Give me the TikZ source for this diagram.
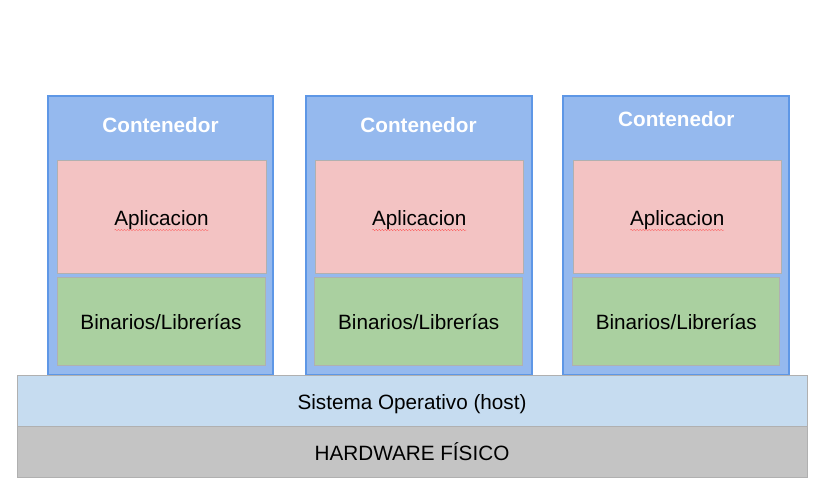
\documentclass[tikz,border=0pt]{standalone}
\usepackage{fontspec}
\setmainfont{Liberation Sans}
\usetikzlibrary{decorations.pathmorphing}
\definecolor{contfill}{HTML}{95B9EE}
\definecolor{contline}{HTML}{5E97E6}
\definecolor{appfill}{HTML}{F3C3C3}
\definecolor{binfill}{HTML}{AAD0A0}
\definecolor{osfill}{HTML}{C6DCF0}
\definecolor{hwfill}{HTML}{C4C4C4}
\definecolor{boxline}{HTML}{B0B0B0}
\tikzset{
    every node/.style={rectangle, inner sep=0mm, text height=17pt, text depth=0pt,
        font=\fontsize{20.7}{24}\selectfont},
    contbox/.style={draw=contline, fill=contfill, line width=2pt},
    conttitle/.style={text=white, font=\fontsize{20.7}{24}\selectfont\bfseries},
    appbox/.style={draw=boxline, fill=appfill, line width=1pt},
    binbox/.style={draw=boxline, fill=binfill, line width=1pt},
    osbox/.style={draw=boxline, fill=osfill, line width=1pt},
    hwbox/.style={draw=boxline, fill=hwfill, line width=1pt},
    squiggle/.style={draw=red!70, line width=0.3pt, decorate,
        decoration={snake, segment length=3pt, amplitude=0.6pt}}
}

\begin{document}
\begin{tikzpicture}[x=1pt, y=-1pt]
        \useasboundingbox (0,0) rectangle (828,500);
        % contenedores
        \node (c1) [contbox, minimum width=225pt, minimum height=279pt] at (160.5, 235.5) {};
        \node (c2) [contbox, minimum width=226pt, minimum height=279pt] at (418.5, 235.5) {};
        \node (c3) [contbox, minimum width=226pt, minimum height=279pt] at (676.3, 235.5) {};
        \node (t1) [conttitle] at (160.5, 124) {Contenedor};
        \node (t2) [conttitle] at (418.5, 124) {Contenedor};
        \node (t3) [conttitle] at (676.3, 118.5) {Contenedor};
        % aplicaciones
        \node (a1) [appbox, minimum width=209pt, minimum height=112pt] at (161.5, 217) {Aplicacion};
        \node (a2) [appbox, minimum width=208pt, minimum height=112pt] at (419.3, 217) {Aplicacion};
        \node (a3) [appbox, minimum width=207.7pt, minimum height=112pt] at (677.2, 217) {Aplicacion};
        \draw[squiggle] ([xshift=-47pt, yshift=-13pt]a1.center) -- ([xshift=47pt, yshift=-13pt]a1.center);
        \draw[squiggle] ([xshift=-47pt, yshift=-13pt]a2.center) -- ([xshift=47pt, yshift=-13pt]a2.center);
        \draw[squiggle] ([xshift=-47pt, yshift=-13pt]a3.center) -- ([xshift=47pt, yshift=-13pt]a3.center);
        % binarios
        \node (b1) [binbox, minimum width=208pt, minimum height=88pt] at (161, 321.3) {Binarios/Librerías};
        \node (b2) [binbox, minimum width=208pt, minimum height=88pt] at (418.7, 321.3) {Binarios/Librerías};
        \node (b3) [binbox, minimum width=207.3pt, minimum height=88pt] at (676.3, 321.3) {Binarios/Librerías};
        % host
        \node (os) [osbox, minimum width=790pt, minimum height=51pt] at (412, 400.5) {Sistema Operativo (host)};
        \node (hw) [hwbox, minimum width=790pt, minimum height=51pt] at (412, 451.5) {HARDWARE FÍSICO};
\end{tikzpicture}
\end{document}
